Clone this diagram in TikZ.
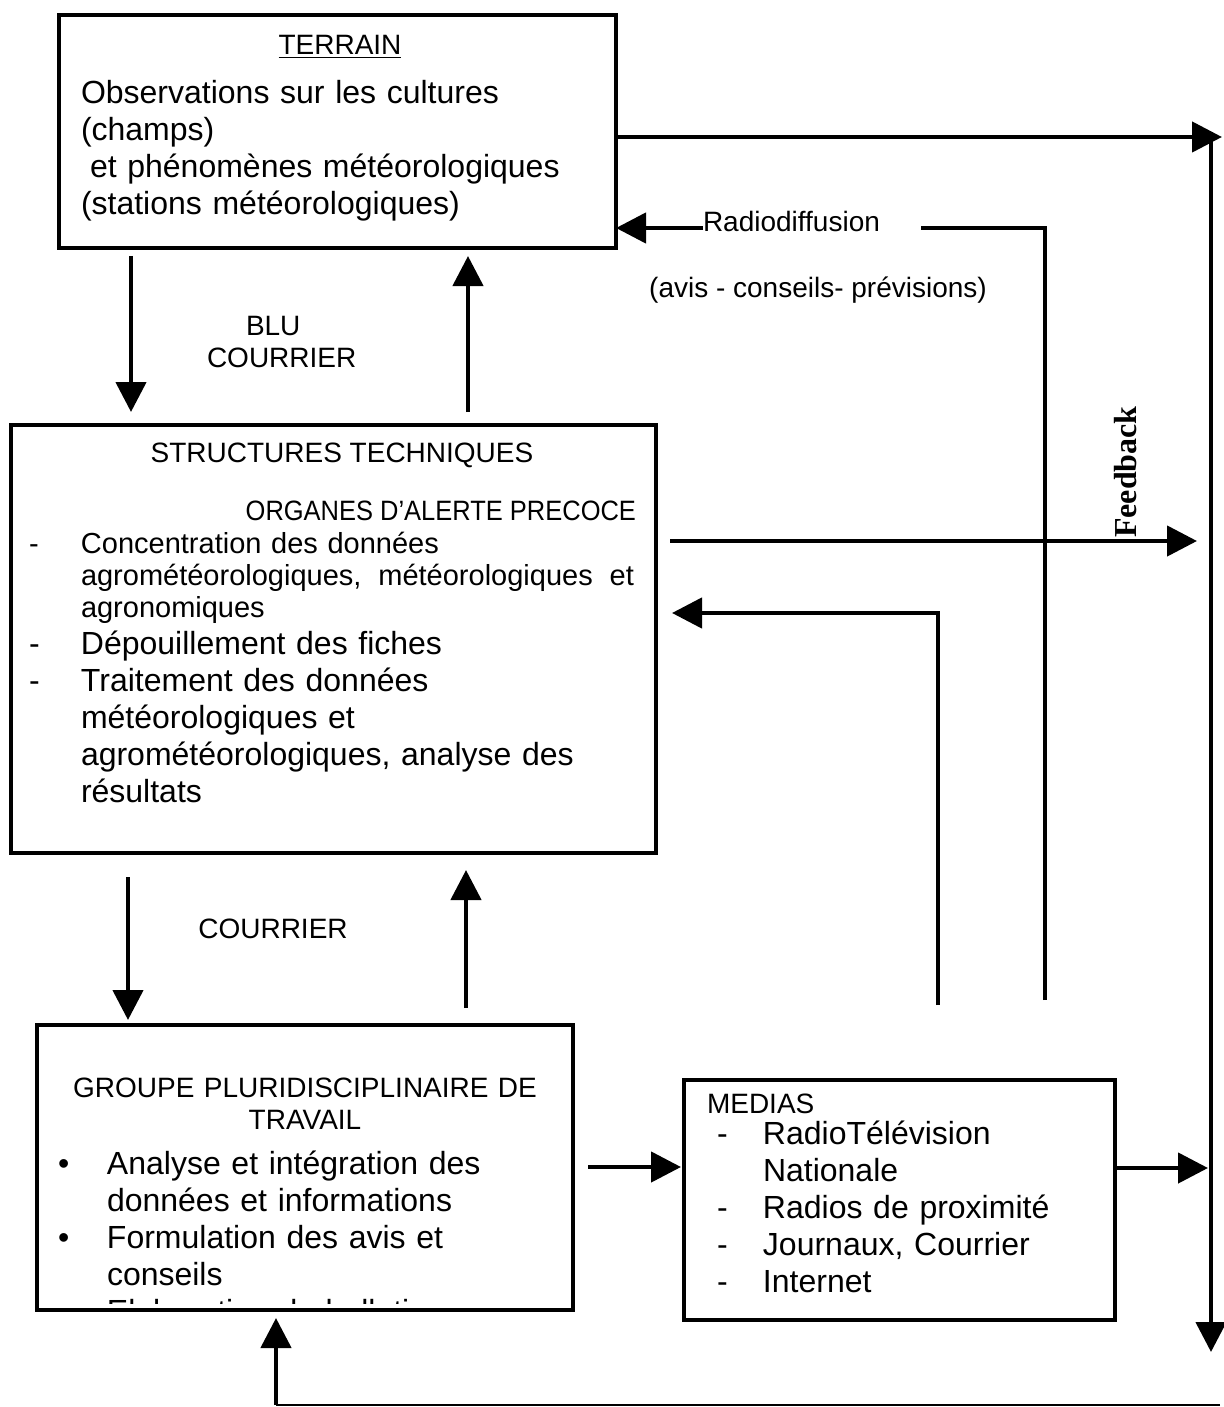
\documentclass[tikz,border=0pt]{standalone}
\usepackage{fontspec}
\setmainfont{Liberation Sans}
\newfontfamily\feedfont{Liberation Serif}
\newfontfamily\organfont[FakeStretch=0.91]{Liberation Sans}
\usetikzlibrary{arrows.meta}
\newcommand{\headsize}{\fontsize{14}{16}\selectfont}
\newcommand{\listsize}{\fontsize{14.5}{16}\selectfont}
\newcommand{\bodysize}{\fontsize{16}{18.5}\selectfont}
\newcommand{\leadbox}[2][26pt]{\makebox[#1][l]{#2}}

\begin{document}
\begin{tikzpicture}[x=0.5pt,y=-0.5pt,
  box/.style={draw,line width=2.25pt,inner sep=0pt,outer sep=0pt},
  arr/.style={line width=2.25pt,-{Triangle[length=15pt,width=15pt]}},
  link/.style={line width=2.25pt},
  thinlink/.style={line width=1pt},
  txt/.style={inner sep=0pt,outer sep=0pt,align=left}]
\useasboundingbox (0,0) rectangle (1224,1407);

\node[box,minimum width=278.5pt,minimum height=116.5pt] (terrain) at (337.5,131.5) {};
\node[box,minimum width=322.5pt,minimum height=214pt] (tech) at (333.5,639) {};
\node[box,minimum width=268pt,minimum height=142.5pt] (groupe) at (305,1167.5) {};
\node[box,minimum width=215.5pt,minimum height=120pt] (medias) at (899.5,1200) {};

\node[txt,font=\headsize,anchor=base] (terrainhead) at (340,55) {\underline{TERRAIN}};
\node[txt,font=\bodysize,text width=270pt,anchor=base west] (terrainbody) at (81,104)
  {Observations sur les cultures\\(champs)\\\hspace*{4.5pt}et phénomènes météorologiques\\(stations météorologiques)};

\node[txt,font=\headsize,text width=100pt,anchor=base west] (blu) at (207,335) {\hspace*{19.5pt}BLU\\COURRIER};

\node[txt,font=\headsize,anchor=base] (techhead) at (342,462) {STRUCTURES TECHNIQUES};
\node[txt,font=\organfont\headsize,anchor=base east] (organes) at (636,520) {ORGANES D’ALERTE PRECOCE};
\node[txt,font=\listsize,text width=310pt,anchor=base west] (techlistA) at (29,553)
  {\leadbox{-}Concentration des données\\
   \leadbox{}\makebox[276.5pt][l]{agrométéorologiques,\hfill météorologiques\hfill et}\\
   \leadbox{}agronomiques};
\node[txt,font=\bodysize,text width=310pt,anchor=base west] (techlistB) at (29,654)
  {\leadbox{-}Dépouillement des fiches\\
   \leadbox{-}Traitement des données\\
   \leadbox{}météorologiques et\\
   \leadbox{}agrométéorologiques, analyse des\\
   \leadbox{}résultats};

\node[txt,font=\headsize,anchor=base] (courrier) at (273,938) {COURRIER};

\node[txt,font=\headsize,text width=250pt,align=center,anchor=base] (groupehead) at (305,1097)
  {GROUPE PLURIDISCIPLINAIRE DE\\TRAVAIL};
\begin{scope}
\clip (groupe.north west) rectangle ([shift={(0,-7)}]groupe.south east);
\node[txt,font=\bodysize,text width=250pt,anchor=base west] (groupelist) at (58,1174)
  {\leadbox[24.5pt]{\textbullet}Analyse et intégration des\\
   \leadbox[24.5pt]{}données et informations\\
   \leadbox[24.5pt]{\textbullet}Formulation des avis et\\
   \leadbox[24.5pt]{}conseils\\
   \leadbox[24.5pt]{\textbullet}Elaboration de bulletins};
\end{scope}

\node[txt,font=\headsize,anchor=base west] (mediashead) at (707,1113) {MEDIAS};
\node[txt,font=\bodysize,text width=190pt,anchor=base west] (medialist) at (717,1144)
  {\leadbox[23pt]{-}RadioTélévision\\
   \leadbox[23pt]{}Nationale\\
   \leadbox[23pt]{-}Radios de proximité\\
   \leadbox[23pt]{-}Journaux, Courrier\\
   \leadbox[23pt]{-}Internet};

\node[txt,font=\headsize,anchor=base west] (radio) at (703,232) {Radiodiffusion};
\node[txt,font=\headsize,anchor=base] (avis) at (818,297) {(avis - conseils- prévisions)};
\node[txt,font=\feedfont\bfseries\fontsize{16}{16}\selectfont,rotate=90] (feedback) at (1126,472) {Feedback};

\coordinate (topend) at (1222,137);
\coordinate (rtop) at (1211,137);
\coordinate (rbot) at (1211,1352);
\coordinate (techout) at (1197,541);
\coordinate (radfoot) at (1045,1000);
\coordinate (radR) at (921,228);
\coordinate (radL) at (703,228);
\coordinate (fbfoot) at (938,1005);
\coordinate (medout) at (1208,1168);
\coordinate (botR) at (1220,1405);
\coordinate (botL) at (276,1405);

\draw[arr] ([shift={(72,8)}]terrain.south west) -- ([shift={(120,-13)}]tech.north west);
\draw[arr] ([shift={(457,-13)}]tech.north west) -- ([shift={(409,8)}]terrain.south west);
\draw[arr] ([shift={(117,24)}]tech.south west) -- ([shift={(91,-5)}]groupe.north west);
\draw[arr] ([shift={(429,-17)}]groupe.north west) -- ([shift={(455,17)}]tech.south west);
\draw[arr] ([shift={(15,142)}]groupe.north east) -- ([shift={(-3,87)}]medias.north west);
\draw[arr] ([shift={(2,88)}]medias.north east) -- (medout);
\draw[arr] ([shift={(14,116)}]tech.north east) -- (techout);
\draw[arr] (fbfoot) |- ([shift={(16,188)}]tech.north east);
\draw[link] (radfoot) |- (radR);
\draw[arr] (radL) -- (terrain.east |- radL);
\draw[arr] (terrain.east |- topend) -- (topend);
\draw[arr] (rtop) -- (rbot);
\draw[thinlink] (botR) -- (botL);
\draw[arr] (botL) -- ([shift={(239,8)}]groupe.south west);
\end{tikzpicture}
\end{document}
